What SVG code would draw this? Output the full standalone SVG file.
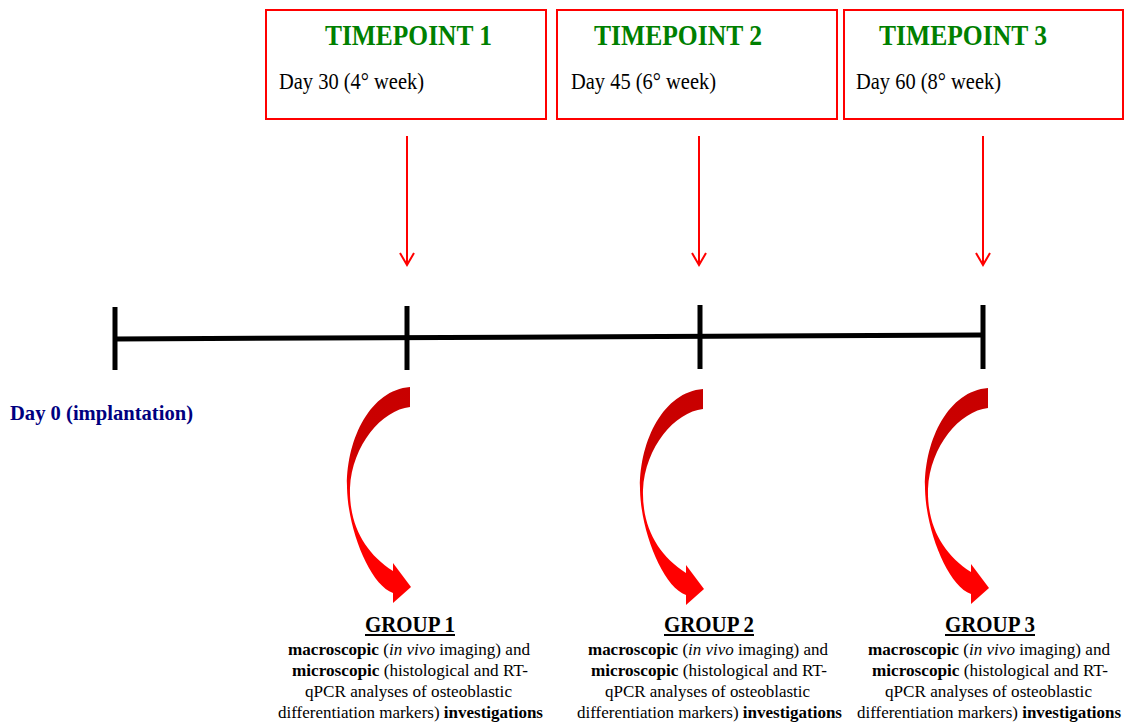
<svg xmlns="http://www.w3.org/2000/svg" width="1127" height="724" viewBox="0 0 1127 724">
<style>
.box{fill:#fff;stroke:#ff0000;stroke-width:2}
.tp{font-family:"Liberation Serif",serif;font-weight:bold;font-size:30px;fill:#008000}
.day{font-family:"Liberation Serif",serif;font-size:23px;fill:#000}
.arr{stroke:#ff0000;stroke-width:2;fill:none}
.tl{stroke:#000;stroke-width:5;fill:none}
.grp{font-family:"Liberation Serif",serif;font-weight:bold;font-size:24px;fill:#000}
.body{font-family:"Liberation Serif",serif;font-size:17px;fill:#000}
.b{font-weight:bold}
.i{font-style:italic}
.d0{font-family:"Liberation Serif",serif;font-weight:bold;font-size:22px;fill:#000080}
</style>
<defs>
<linearGradient id="cg" x1="0" y1="0" x2="0" y2="1">
<stop offset="0" stop-color="#c80000"/>
<stop offset="0.3" stop-color="#cc0000"/>
<stop offset="0.5" stop-color="#ff0000"/>
<stop offset="1" stop-color="#ff0000"/>
</linearGradient>
<path id="curve" d="M 410,387 L 410,407 C 382,410 352,445 350,488 C 349,525 365,553 393,571 L 393,563 L 411,587 L 393,603 L 393,593 C 370,585 348,530 347,488 C 346,440 370,390 410,387 Z" fill="url(#cg)"/>
</defs>
<rect width="1127" height="724" fill="#fff"/>

<g id="timepoint1">
<rect class="box" x="266" y="10" width="280" height="109"/>
<text class="tp" x="325" y="45" textLength="167" lengthAdjust="spacingAndGlyphs">TIMEPOINT 1</text>
<text class="day" x="279" y="89" textLength="145" lengthAdjust="spacingAndGlyphs">Day 30 (4° week)</text>
</g>
<g id="timepoint2">
<rect class="box" x="557" y="10" width="280" height="109"/>
<text class="tp" x="594" y="45" textLength="168" lengthAdjust="spacingAndGlyphs">TIMEPOINT 2</text>
<text class="day" x="571" y="89" textLength="145" lengthAdjust="spacingAndGlyphs">Day 45 (6° week)</text>
</g>
<g id="timepoint3">
<rect class="box" x="844" y="10" width="279" height="109"/>
<text class="tp" x="879" y="45" textLength="168" lengthAdjust="spacingAndGlyphs">TIMEPOINT 3</text>
<text class="day" x="856" y="89" textLength="145" lengthAdjust="spacingAndGlyphs">Day 60 (8° week)</text>
</g>

<g id="timeline">
<line class="tl" x1="115" y1="339" x2="983" y2="335"/>
<line class="tl" x1="115" y1="307" x2="115" y2="370"/>
<line class="tl" x1="407" y1="306" x2="407" y2="370"/>
<line class="tl" x1="700" y1="305" x2="700" y2="369"/>
<line class="tl" x1="983" y1="305" x2="983" y2="369"/>
</g>

<g id="day0">
<text class="d0" x="10" y="420" textLength="183" lengthAdjust="spacingAndGlyphs">Day 0 (implantation)</text>
</g>

<g id="connectors">
<line class="arr" x1="407" y1="136" x2="407" y2="265"/>
<polyline class="arr" points="400,253 407,265 414,253"/>
<line class="arr" x1="699" y1="136" x2="699" y2="265"/>
<polyline class="arr" points="692,253 699,265 706,253"/>
<line class="arr" x1="983" y1="136" x2="983" y2="265"/>
<polyline class="arr" points="976,253 983,265 990,253"/>
<use href="#curve"/>
<use href="#curve" transform="translate(293,2)"/>
<use href="#curve" transform="translate(578,1)"/>
</g>

<g id="group1">
<text class="grp" x="365" y="632" textLength="90" lengthAdjust="spacingAndGlyphs">GROUP 1</text>
<line x1="365" y1="635" x2="455" y2="635" stroke="#000" stroke-width="2"/>
<text class="body" x="288" y="655" textLength="242" lengthAdjust="spacingAndGlyphs"><tspan class="b">macroscopic</tspan> (<tspan class="i">in vivo</tspan> imaging) and</text>
<text class="body" x="292" y="676" textLength="236" lengthAdjust="spacingAndGlyphs"><tspan class="b">microscopic</tspan> (histological and RT-</text>
<text class="body" x="305" y="697" textLength="207" lengthAdjust="spacingAndGlyphs">qPCR analyses of osteoblastic</text>
<text class="body" x="278" y="718" textLength="265" lengthAdjust="spacingAndGlyphs">differentiation markers) <tspan class="b">investigations</tspan></text>
</g>
<g id="group2">
<text class="grp" x="664" y="632" textLength="90" lengthAdjust="spacingAndGlyphs">GROUP 2</text>
<line x1="664" y1="635" x2="754" y2="635" stroke="#000" stroke-width="2"/>
<text class="body" x="588" y="655" textLength="240" lengthAdjust="spacingAndGlyphs"><tspan class="b">macroscopic</tspan> (<tspan class="i">in vivo</tspan> imaging) and</text>
<text class="body" x="591" y="676" textLength="236" lengthAdjust="spacingAndGlyphs"><tspan class="b">microscopic</tspan> (histological and RT-</text>
<text class="body" x="605" y="697" textLength="205" lengthAdjust="spacingAndGlyphs">qPCR analyses of osteoblastic</text>
<text class="body" x="577" y="718" textLength="265" lengthAdjust="spacingAndGlyphs">differentiation markers) <tspan class="b">investigations</tspan></text>
</g>
<g id="group3">
<text class="grp" x="945" y="632" textLength="90" lengthAdjust="spacingAndGlyphs">GROUP 3</text>
<line x1="945" y1="635" x2="1035" y2="635" stroke="#000" stroke-width="2"/>
<text class="body" x="868" y="655" textLength="242" lengthAdjust="spacingAndGlyphs"><tspan class="b">macroscopic</tspan> (<tspan class="i">in vivo</tspan> imaging) and</text>
<text class="body" x="872" y="676" textLength="236" lengthAdjust="spacingAndGlyphs"><tspan class="b">microscopic</tspan> (histological and RT-</text>
<text class="body" x="885" y="697" textLength="207" lengthAdjust="spacingAndGlyphs">qPCR analyses of osteoblastic</text>
<text class="body" x="857" y="718" textLength="264" lengthAdjust="spacingAndGlyphs">differentiation markers) <tspan class="b">investigations</tspan></text>
</g>
</svg>
